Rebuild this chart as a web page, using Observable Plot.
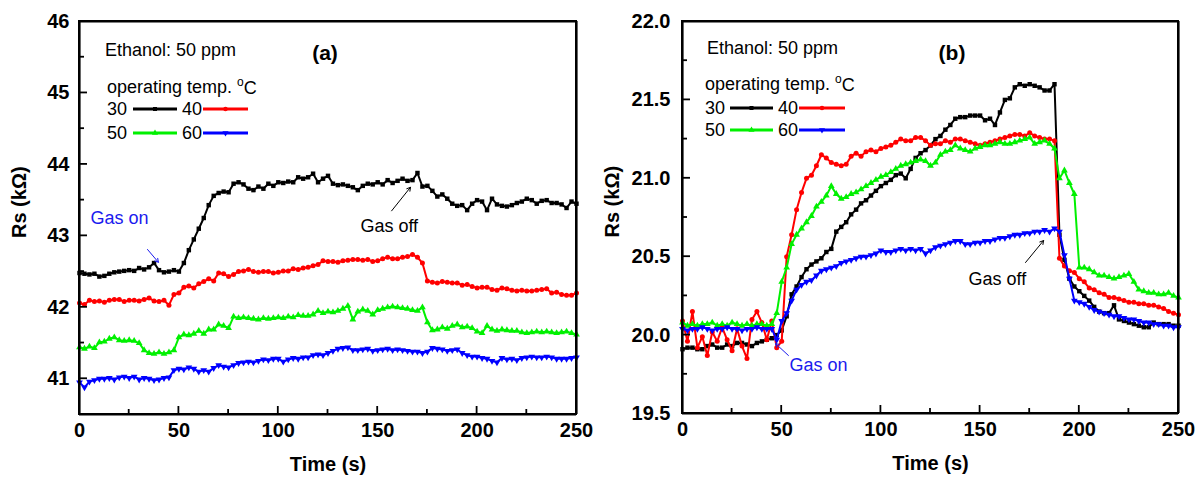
<!DOCTYPE html>
<html>
<head>
<meta charset="utf-8">
<script src="https://cdn.jsdelivr.net/npm/d3@7"></script>
<script src="https://cdn.jsdelivr.net/npm/@observablehq/plot@0.6"></script>
<style>
  body { margin: 0; background: #fff; }
  #wrap { position: relative; width: 1202px; height: 483px; background: #fff; overflow: hidden; }
  .pane { position: absolute; top: 0; width: 600px; height: 483px; }
  .pane svg.ov { position: absolute; top: 0; left: 0; pointer-events: none; }
  .pane .fr { position: absolute; box-sizing: border-box; border: 2px solid #000; pointer-events: none; }
</style>
</head>
<body>
<div id="wrap">
  <div class="pane" id="pa" style="left:0px"></div>
  <div class="pane" id="pb" style="left:600px; width:602px"></div>
</div>
<script>
// ---- categories ----
const time = d3.range(0, 250.001, 2.5); // seconds
const temps = ["30", "40", "50", "60"];
const colors = ["#000000", "#ff0000", "#00f000", "#0000ff"];
const symbols = ["square", "circle", "triangle", "triangle"];
const rotations = [0, 0, 0, 180];
const xMajor = [0, 50, 100, 150, 200, 250];
const xMinor = [25, 75, 125, 175, 225];
const yMajorA = [41, 42, 43, 44, 45, 46];
const yMinorA = [40.5, 41.5, 42.5, 43.5, 44.5, 45.5];
const yMajorB = [19.5, 20.0, 20.5, 21.0, 21.5, 22.0];
const yMinorB = [19.75, 20.25, 20.75, 21.25, 21.75];

// ---- panel (a) series (Rs, kΩ) ----
const aT30 = [42.48,42.47,42.46,42.47,42.43,42.44,42.47,42.49,42.50,42.51,
  42.52,42.51,42.55,42.53,42.56,42.62,42.52,42.49,42.50,42.52,
  42.50,42.62,42.80,42.95,43.10,43.25,43.43,43.56,43.60,43.62,
  43.61,43.73,43.75,43.72,43.66,43.64,43.69,43.66,43.73,43.70,
  43.75,43.74,43.76,43.75,43.82,43.80,43.82,43.87,43.75,43.80,
  43.84,43.73,43.71,43.72,43.70,43.68,43.64,43.70,43.73,43.72,
  43.75,43.72,43.78,43.74,43.77,43.80,43.77,43.78,43.88,43.69,
  43.70,43.63,43.55,43.58,43.52,43.45,43.42,43.43,43.36,43.45,
  43.50,43.48,43.36,43.52,43.44,43.42,43.41,43.43,43.46,43.48,
  43.52,43.50,43.45,43.49,43.50,43.46,43.46,43.44,43.39,43.48,
  43.45];
const aT40 = [42.06,42.04,42.10,42.08,42.09,42.07,42.10,42.11,42.11,42.08,
  42.10,42.10,42.09,42.11,42.13,42.09,42.08,42.10,42.03,42.18,
  42.20,42.28,42.30,42.27,42.33,42.36,42.40,42.37,42.48,42.47,
  42.43,42.46,42.50,42.51,42.53,42.50,42.49,42.50,42.50,42.48,
  42.49,42.51,42.51,42.54,42.53,42.55,42.56,42.58,42.60,42.65,
  42.64,42.64,42.63,42.65,42.66,42.67,42.67,42.66,42.67,42.64,
  42.65,42.68,42.70,42.68,42.68,42.70,42.71,42.74,42.70,42.62,
  42.37,42.35,42.34,42.36,42.35,42.34,42.34,42.31,42.32,42.29,
  42.27,42.28,42.28,42.25,42.24,42.27,42.26,42.24,42.23,42.24,
  42.23,42.23,42.24,42.25,42.26,42.20,42.21,42.18,42.17,42.17,
  42.20];
const aT50 = [41.44,41.42,41.45,41.43,41.51,41.52,41.56,41.58,41.54,41.53,
  41.54,41.53,41.50,41.40,41.36,41.35,41.37,41.35,41.37,41.40,
  41.58,41.62,41.61,41.63,41.67,41.63,41.69,41.69,41.76,41.74,
  41.71,41.87,41.85,41.86,41.85,41.84,41.83,41.85,41.84,41.85,
  41.86,41.85,41.87,41.86,41.89,41.88,41.88,41.90,41.95,41.92,
  41.94,41.93,41.95,41.98,42.02,41.83,41.94,41.97,41.95,41.90,
  41.96,41.98,42.00,42.01,42.00,41.99,41.98,41.96,41.95,42.00,
  41.79,41.68,41.69,41.72,41.70,41.74,41.76,41.72,41.73,41.71,
  41.66,41.64,41.74,41.69,41.67,41.69,41.68,41.67,41.67,41.65,
  41.64,41.65,41.66,41.65,41.66,41.65,41.64,41.65,41.66,41.64,
  41.62];
const aT60 = [40.95,40.88,40.96,40.98,41.00,41.00,41.01,40.99,41.02,41.03,
  41.01,41.03,40.99,41.01,41.00,40.98,40.99,41.01,41.02,41.12,
  41.14,41.13,41.16,41.14,41.10,41.12,41.10,41.15,41.19,41.17,
  41.16,41.19,41.22,41.23,41.24,41.23,41.25,41.27,41.26,41.28,
  41.28,41.24,41.27,41.29,41.28,41.30,41.30,41.33,41.34,41.33,
  41.36,41.39,41.42,41.43,41.44,41.40,41.40,41.41,41.42,41.39,
  41.40,41.41,41.42,41.40,41.41,41.40,41.39,41.38,41.38,41.36,
  41.38,41.43,41.42,41.41,41.39,41.40,41.41,41.36,41.33,41.31,
  41.31,41.29,41.28,41.25,41.23,41.29,41.27,41.28,41.26,41.29,
  41.30,41.31,41.30,41.30,41.31,41.30,41.28,41.28,41.28,41.29,
  41.30];

// ---- panel (b) series (Rs, kΩ) ----
const bT30 = [19.91,19.92,19.92,19.91,19.91,19.93,19.94,19.92,19.92,19.94,
  19.93,19.95,19.95,19.94,19.93,19.95,19.96,19.97,19.98,20.00,
  20.03,20.12,20.26,20.31,20.37,20.42,20.45,20.47,20.49,20.53,
  20.55,20.66,20.69,20.72,20.77,20.80,20.84,20.86,20.89,20.92,
  20.95,20.97,20.99,21.02,21.03,21.00,21.06,21.13,21.16,21.18,
  21.21,21.25,21.27,21.31,21.34,21.38,21.39,21.39,21.40,21.40,
  21.40,21.37,21.38,21.34,21.42,21.50,21.51,21.58,21.60,21.59,
  21.60,21.59,21.58,21.56,21.56,21.60,20.64,20.48,20.36,20.31,
  20.28,20.25,20.22,20.18,20.15,20.14,20.14,20.19,20.10,20.09,
  20.08,20.07,20.06,20.05,20.05,20.08,20.07,20.07,20.07,20.06,
  20.06];
const bT40 = [20.09,19.96,20.15,19.92,19.99,19.87,20.02,19.96,20.05,19.97,
  19.90,20.04,19.93,19.85,20.10,20.15,20.08,19.97,20.09,19.92,
  19.96,20.50,20.64,20.80,20.91,21.00,21.02,21.08,21.15,21.13,
  21.10,21.09,21.08,21.09,21.14,21.16,21.14,21.17,21.18,21.17,
  21.19,21.20,21.21,21.23,21.25,21.24,21.24,21.26,21.26,21.24,
  21.21,21.22,21.22,21.24,21.23,21.25,21.25,21.24,21.23,21.22,
  21.21,21.22,21.23,21.24,21.25,21.26,21.27,21.28,21.28,21.27,
  21.29,21.27,21.26,21.25,21.25,21.24,20.49,20.44,20.41,20.40,
  20.36,20.34,20.30,20.29,20.27,20.26,20.24,20.24,20.23,20.22,
  20.21,20.21,20.20,20.20,20.19,20.19,20.18,20.17,20.15,20.14,
  20.13];
const bT50 = [20.08,20.06,20.07,20.06,20.07,20.07,20.08,20.06,20.07,20.06,
  20.08,20.07,20.06,20.07,20.06,20.07,20.07,20.06,20.07,20.14,
  20.34,20.43,20.58,20.64,20.68,20.72,20.76,20.82,20.85,20.89,
  20.95,20.90,20.87,20.88,20.90,20.91,20.93,20.95,20.97,20.99,
  21.01,21.02,21.04,21.06,21.08,21.09,21.10,21.11,21.12,21.11,
  21.08,21.10,21.15,21.17,21.18,21.21,21.19,21.18,21.17,21.19,
  21.20,21.21,21.21,21.22,21.23,21.22,21.22,21.23,21.24,21.25,
  21.26,21.22,21.23,21.24,21.22,21.19,21.00,21.05,20.97,20.90,
  20.43,20.43,20.42,20.40,20.38,20.38,20.37,20.36,20.37,20.38,
  20.39,20.34,20.29,20.28,20.27,20.27,20.26,20.26,20.27,20.25,
  20.24];
const bT60 = [20.04,20.03,20.04,20.04,20.05,20.04,20.03,20.04,20.04,20.05,
  20.04,20.04,20.03,20.04,20.04,20.05,20.04,20.04,20.04,19.97,
  20.09,20.14,20.22,20.29,20.32,20.34,20.35,20.38,20.41,20.42,
  20.43,20.44,20.46,20.47,20.48,20.49,20.50,20.50,20.51,20.52,
  20.54,20.53,20.53,20.54,20.55,20.54,20.55,20.54,20.55,20.52,
  20.54,20.56,20.57,20.58,20.59,20.60,20.60,20.58,20.58,20.59,
  20.59,20.60,20.60,20.61,20.62,20.62,20.63,20.64,20.64,20.65,
  20.65,20.66,20.66,20.67,20.66,20.68,20.66,20.51,20.36,20.22,
  20.21,20.20,20.18,20.16,20.15,20.14,20.13,20.12,20.12,20.11,
  20.10,20.10,20.09,20.08,20.08,20.07,20.07,20.06,20.06,20.05,
  20.05];

// ---- annotations (data coordinates) ----
const annA = {
  gasOn: {x: 5.5, y: 43.24, ax1: 34.2, ay1: 42.81, ax2: 39.7, ay2: 42.63},
  gasOff: {x: 141.3, y: 43.13, ax1: 157, ay1: 43.35, ax2: 166.5, ay2: 43.68}
};
const annB = {
  gasOn: {x: 53.9, y: 19.81, ax1: 53.4, ay1: 19.87, ax2: 46.9, ay2: 19.946},
  gasOff: {x: 144.2, y: 20.355, ax1: 172.9, ay1: 20.463, ax2: 182, ay2: 20.603}
};

const FONT = "'Liberation Sans', Arial, Helvetica, sans-serif";

function panel(host, opts) {
  const series = opts.series.map((vals, i) => vals.map((v, j) => ({t: time[j], v, temp: temps[i]})));
  const [y0, y1] = opts.yDomain;
  const marks = [];
  series.forEach((s, i) => {
    marks.push(Plot.line(s, {x: "t", y: "v", stroke: colors[i], strokeWidth: 2}));
    marks.push(Plot.dot(s, {x: "t", y: "v", symbol: symbols[i], rotate: rotations[i], fill: colors[i], stroke: "none", r: 2.5}));
  });
  const a = opts.ann;
  marks.push(
    Plot.text([a.gasOn], {x: "x", y: "y", text: () => "Gas on", fill: "#1a1aee", textAnchor: "start", fontSize: 18, fontWeight: "normal"}),
    Plot.arrow([a.gasOn], {x1: "ax1", y1: "ay1", x2: "ax2", y2: "ay2", stroke: "#1a1aee", strokeWidth: 1, headLength: 6}),
    Plot.text([a.gasOff], {x: "x", y: "y", text: () => "Gas off", fill: "#000", textAnchor: "start", fontSize: 18, fontWeight: "normal"}),
    Plot.arrow([a.gasOff], {x1: "ax1", y1: "ay1", x2: "ax2", y2: "ay2", stroke: "#000", strokeWidth: 1, headLength: 6}),
    Plot.axisX({ticks: xMajor, tickSize: 0, tickPadding: 8, label: null, tickFormat: d => String(d), fontSize: 20, fontWeight: "bold"}),
    Plot.axisY({ticks: opts.yMajor, tickSize: 0, tickPadding: opts.yPad, label: null, tickFormat: opts.yFmt, fontSize: 20, fontWeight: "bold"}),
    Plot.ruleX([0, 250], {y1: y0, y2: y1, stroke: "#000", strokeWidth: 2.2}),
    Plot.ruleY([y0, y1], {x1: 0, x2: 250, stroke: "#000", strokeWidth: 2.2}),
    Plot.text(["Time (s)"], {frameAnchor: "bottom", dy: 56, fontSize: 20, fontWeight: "bold"}),
    Plot.text(["Rs (k\u03A9)"], {frameAnchor: "left", dx: -opts.yLabOff, dy: 20, rotate: -90, fontSize: 20, fontWeight: "bold"})
  );
  const svg = Plot.plot({
    width: opts.width, height: 483,
    marginLeft: opts.ml, marginRight: opts.mr, marginTop: 21, marginBottom: opts.mb,
    x: {domain: [0, 250]},
    y: {domain: opts.yDomain},
    style: {fontFamily: FONT, fontSize: "20px", background: "white", color: "#000"},
    marks
  });
  host.append(svg);

  // frame box and inward ticks, positioned through the plot's own scales
  const sx = svg.scale("x").apply, sy = svg.scale("y").apply;
  const fx0 = sx(0), fx1 = sx(250), fy0 = sy(y0), fy1 = sy(y1);
  const fr = document.createElement("div");
  fr.className = "fr";
  fr.style.left = (fx0 - 1) + "px";
  fr.style.top = (fy1 - 1) + "px";
  fr.style.width = (fx1 - fx0 + 2) + "px";
  fr.style.height = (fy0 - fy1 + 2) + "px";
  host.append(fr);

  const ov = d3.create("svg").attr("class", "ov").attr("width", opts.width).attr("height", 483);
  const ax = ov.append("g").attr("stroke", "#000").attr("fill", "none").attr("stroke-width", 1.8);
  ax.selectAll("line.xt").data([...xMajor.map(t => [t, 8]), ...xMinor.map(t => [t, 5])]).join("line")
    .attr("x1", d => sx(d[0])).attr("x2", d => sx(d[0])).attr("y1", fy0).attr("y2", d => fy0 - d[1]);
  ax.selectAll("line.yt").data([...opts.yMajor.map(t => [t, 8]), ...opts.yMinor.map(t => [t, 5])]).join("line")
    .attr("y1", d => sy(d[0])).attr("y2", d => sy(d[0])).attr("x1", fx0).attr("x2", d => fx0 + d[1]);

  // legend block (pixel offsets relative to the plot frame)
  const L = opts.leg;
  const g = ov.append("g")
    .attr("transform", `translate(${opts.ml},21)`)
    .attr("text-anchor", "start")
    .attr("font-family", FONT).attr("font-size", 18).attr("font-weight", "normal").attr("fill", "#000");
  g.append("text").attr("x", L.eth[0]).attr("y", L.eth[1]).attr("dy", "0.35em").text("Ethanol: 50 ppm");
  g.append("text").attr("x", L.lab[0]).attr("y", L.lab[1]).attr("dy", "0.35em")
    .attr("text-anchor", "middle").attr("font-weight", "bold").attr("font-size", 21).text(opts.label);
  const op = g.append("text").attr("x", L.op[0]).attr("y", L.op[1]).attr("dy", "0.35em");
  op.append("tspan").text("operating temp. ");
  op.append("tspan").attr("font-size", 12).attr("dy", "-0.6em").text("o");
  op.append("tspan").attr("dy", "0.45em").text("C");
  const rows = [L.r1, L.r1, L.r2, L.r2];
  const textX = [L.t1, L.t2, L.t1, L.t2];
  const lineX = [L.l1, L.l2, L.l1, L.l2];
  temps.forEach((tp, i) => {
    g.append("text").attr("x", textX[i]).attr("y", rows[i]).attr("dy", "0.35em").text(tp);
    g.append("line").attr("x1", lineX[i][0]).attr("x2", lineX[i][1]).attr("y1", rows[i]).attr("y2", rows[i])
      .attr("stroke", colors[i]).attr("stroke-width", 2.8);
    const cx = (lineX[i][0] + lineX[i][1]) / 2;
    const sym = d3.symbol().type([d3.symbolSquare, d3.symbolCircle, d3.symbolTriangle, d3.symbolTriangle][i]).size(16);
    g.append("path").attr("d", sym()).attr("fill", colors[i])
      .attr("transform", `translate(${cx},${rows[i]}) rotate(${rotations[i]})`);
  });
  host.append(ov.node());
}

panel(document.getElementById("pa"), {
  width: 600, ml: 79, mr: 24, mb: 69,
  yDomain: [40.5, 46], yMajor: yMajorA, yMinor: yMinorA, yFmt: d => String(d), yPad: 10, yLabOff: 60,
  series: [aT30, aT40, aT50, aT60], ann: annA, label: "(a)",
  leg: {eth: [26, 29], lab: [246, 32], op: [28, 66], r1: 88, r2: 112, t1: 28, l1: [54, 98], t2: 103, l2: [124, 169]}
});
panel(document.getElementById("pb"), {
  width: 602, ml: 82, mr: 24, mb: 70,
  yDomain: [19.5, 22], yMajor: yMajorB, yMinor: yMinorB, yFmt: d => d.toFixed(1), yPad: 12, yLabOff: 70,
  series: [bT30, bT40, bT50, bT60], ann: annB, label: "(b)",
  leg: {eth: [25, 27], lab: [270, 32], op: [23, 63], r1: 87, r2: 109, t1: 23, l1: [48, 91], t2: 96, l2: [117, 163]}
});
</script>
</body>
</html>
